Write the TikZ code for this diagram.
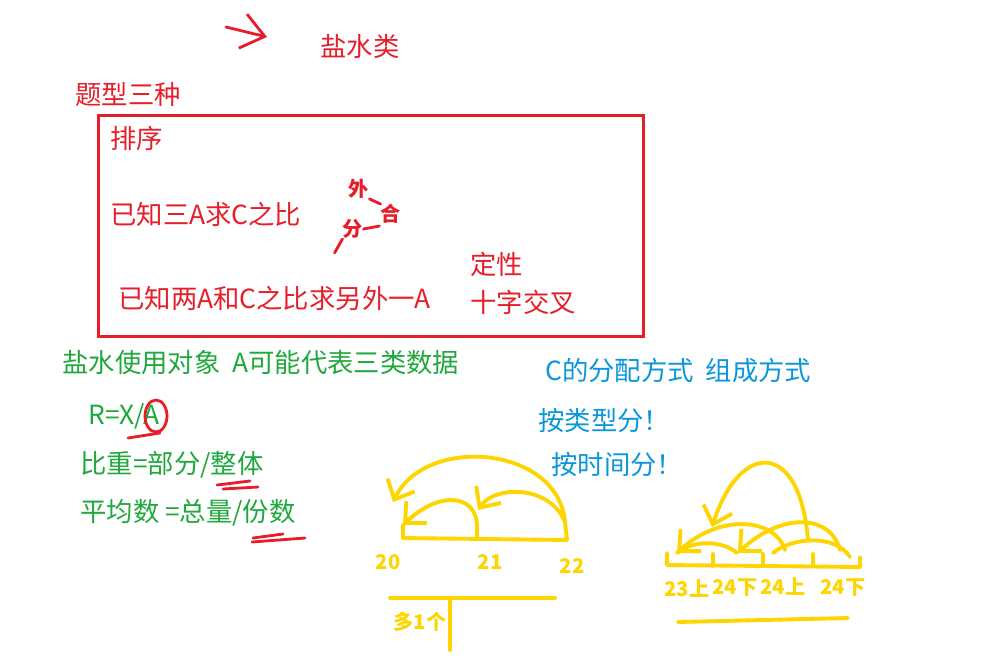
\documentclass[tikz,border=0pt]{standalone}
\usepackage{fontspec}
\setmainfont{Noto Sans CJK SC}
\usetikzlibrary{arrows.meta, positioning}
\definecolor{hongse}{HTML}{E51E2A}
\definecolor{lvse}{HTML}{1FA83C}
\definecolor{lanse}{HTML}{0A96DA}
\definecolor{huangse}{HTML}{FFD500}

\begin{document}
\begin{tikzpicture}[
  x=0.02cm, y=-0.02cm,
  txt/.style={anchor=west, inner sep=0pt, font=\fontsize{15}{18}\selectfont},
  hong/.style={txt, text=hongse},
  lv/.style={txt, text=lvse},
  lan/.style={txt, text=lanse},
  hongshou/.style={inner sep=0pt, text=hongse, font=\fontsize{11.5}{13}\selectfont\bfseries},
  shou/.style={inner sep=0pt, text=huangse, font=\fontsize{11.5}{13}\selectfont\bfseries},
  bi/.style={huangse, line width=2.2pt, line cap=round, line join=round},
  hongbi/.style={hongse, line width=1.6pt, line cap=round, line join=round},
  jian/.style={-{Straight Barb[length=3.2mm, width=6mm]}}
]
  \useasboundingbox (0,0) rectangle (986,660);

  \coordinate (jt0) at (226,27);
  \coordinate (jt1) at (267,37);
  \draw[hongbi, -{Straight Barb[length=4.5mm, width=7mm]}] (jt0) -- (jt1);
  \node[hong] (yanshui) at (320,46) {盐水类};
  \node[hong] (tixing) at (75,94) {题型三种};

  \node[draw=hongse, line width=1.7pt, inner sep=0pt, anchor=north west,
        minimum width=10.9cm, minimum height=4.42cm] (kuang) at (97,114) {};
  \node[hong] (paixu) at (110,138) {排序};
  \node[hong] (sanA) at (110,214) {已知三A求C之比};
  \node[hong] (liangA) at (118,298) {已知两A和C之比求另外一A};
  \node[hong] (dingxing) at (470,264) {定性};
  \node[hong] (shizi) at (470,302) {十字交叉};

  \node[hongshou] (wai) at (359,189) {外};
  \node[hongshou] (he) at (391,214) {合};
  \node[hongshou] (fen) at (353,229) {分};
  \draw[hongbi] (wai.south east) -- (he.north west);
  \draw[hongbi] (fen.east) -- ++(16,-3);
  \draw[hongbi] (fen.south west) -- ++(-8,14);

  \node[lv] (duixiang) at (62,362) {盐水使用对象\ \ A可能代表三类数据};
  \node[lv] (RXA) at (88,416) {R=X/A};
  \node[lv] (bizhong) at (80,465) {比重=部分/整体};
  \node[lv] (pingjun) at (80,513) {平均数 =总量/份数};
  \draw[hongbi] (156,416) ellipse [x radius=0.22cm, y radius=0.32cm];
  \draw[hongbi] (128,438) -- (160,433);
  \draw[hongbi] (217,485) -- (250,481);
  \draw[hongbi] (223,489) -- (258,487);
  \draw[hongbi] (253,538) -- (283,534);
  \draw[hongbi] (252,542) -- (305,538);

  \node[lan] (fenpei) at (545,370) {C的分配方式\ \ 组成方式};
  \node[lan] (leixing) at (538,420) {按类型分！};
  \node[lan] (shijian) at (551,464) {按时间分！};

  \coordinate (d20) at (403,538);
  \coordinate (d21) at (477,538);
  \coordinate (d22) at (567,540);
  \draw[bi] (d20) -- (d22);
  \draw[bi] (d20) -- ++(0,-13) coordinate (d20t);
  \draw[bi] (d21) -- ++(0,-14) coordinate (d21t);
  \draw[bi] (d22) -- ++(-2,-18) coordinate (d22t);
  \node[shou] (n20) at (388,562) {20};
  \node[shou] (n21) at (490,562) {21};
  \node[shou] (n22) at (572,566) {22};
  \draw[bi, jian] (d22t) .. controls (558,445) and (425,435) .. (393,502);
  \draw[bi, jian] (d22t) .. controls (550,485) and (495,485) .. (478,510);
  \draw[bi, jian] (d21t) .. controls (475,495) and (440,490) .. (d20t);

  \coordinate (t0) at (390,598);
  \coordinate (t1) at (555,598);
  \coordinate (t2) at (450,600);
  \coordinate (t3) at (450,650);
  \draw[bi] (t0) -- (t1);
  \draw[bi] (t2) -- (t3);
  \node[shou] (duo) at (420,622) {多1个};

  \coordinate (e0) at (667,565);
  \coordinate (e4) at (860,567);
  \draw[bi] (667,553) -- (e0) -- (e4) -- (860,557);
  \foreach \x in {713,763,813}
    \draw[bi] (\x,566) -- (\x,554);
  \node[shou] (m23s) at (687,588) {23上};
  \node[shou] (m24x) at (735,588) {24下};
  \node[shou] (m24s) at (783,586) {24上};
  \node[shou] (m24xx) at (843,588) {24下};
  \coordinate (u0) at (678,622);
  \coordinate (u1) at (848,618);
  \draw[bi] (u0) -- (u1);
  \draw[bi, jian] (808,540) .. controls (800,440) and (740,440) .. (712,527);
  \draw[bi, jian] (785,550) .. controls (775,518) and (720,513) .. (677,553);
  \draw[bi, jian] (840,550) .. controls (830,513) and (780,513) .. (738,553);
  \draw[bi] (773,553) .. controls (790,538) and (835,533) .. (850,557);
  \draw[bi] (737,553) .. controls (722,540) and (692,540) .. (677,553);
\end{tikzpicture}
\end{document}
